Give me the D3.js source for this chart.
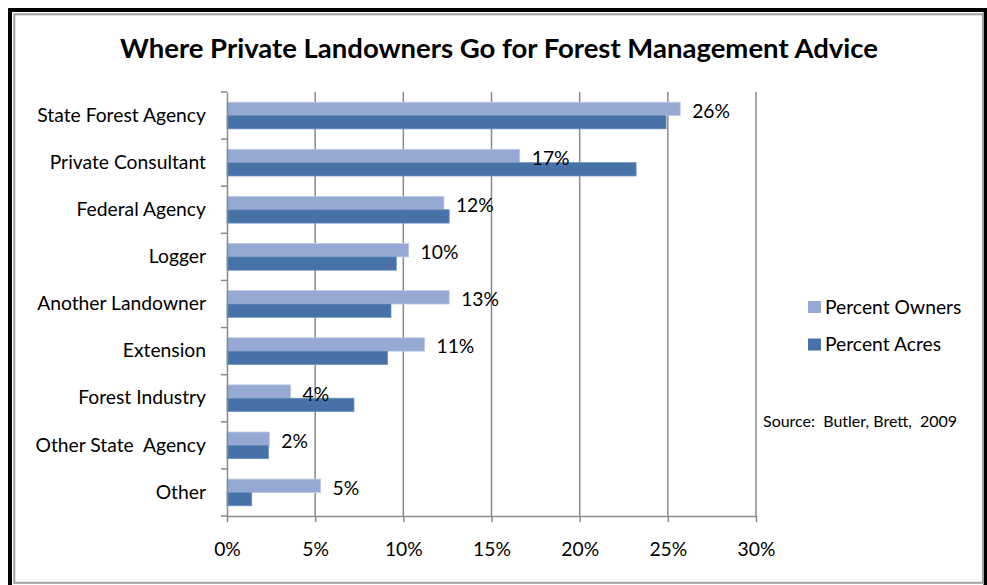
<!DOCTYPE html>
<html>
<head>
<meta charset="utf-8">
<script src="https://cdn.jsdelivr.net/npm/d3@7"></script>
<style>
  html, body { margin: 0; padding: 0; background: #fff; }
  svg { display: block; }
  text { font-family: Lato, "Noto Sans", sans-serif; fill: #000; }
</style>
</head>
<body>
<svg id="chart" width="987" height="585"></svg>
<script>
// Survey categories, top to bottom
const categories = [
  "State Forest Agency",
  "Private Consultant",
  "Federal Agency",
  "Logger",
  "Another Landowner",
  "Extension",
  "Forest Industry",
  "Other State  Agency",
  "Other"
];
// Share of owners (%) and share of acres (%) per advice source
const percentOwners = [25.7, 16.6, 12.3, 10.3, 12.6, 11.2, 3.6, 2.4, 5.3];
const percentAcres  = [24.9, 23.2, 12.6, 9.6, 9.3, 9.1, 7.2, 2.35, 1.4];
const seriesNames = ["Percent Owners", "Percent Acres"];
const xTicks = [0, 5, 10, 15, 20, 25, 30];
const titleText = "Where Private Landowners Go for Forest Management Advice";
const sourceText = "Source:  Butler, Brett,  2009";

const colors = { "Percent Owners": "#95A9D2", "Percent Acres": "#4672A8" };
const gridColor = "#8a8a8a";
const labelSize = "19.3px";

const svg = d3.select("#chart");

// outer frame
svg.append("rect").attr("x", 0).attr("y", 0).attr("width", 987).attr("height", 585).attr("fill", "#fff");
svg.append("rect")
  .attr("x", 10).attr("y", 10).attr("width", 975.5).attr("height", 620)
  .attr("fill", "none").attr("stroke", "#000").attr("stroke-width", 4);
svg.append("rect")
  .attr("x", 14.3).attr("y", 14.3).attr("width", 968.7).attr("height", 568.5)
  .attr("fill", "none").attr("stroke", "#a0a0a0").attr("stroke-width", 2);

// title
svg.append("text")
  .attr("x", 499).attr("y", 58)
  .attr("text-anchor", "middle")
  .style("font-weight", "bold")
  .style("font-size", "27.5px")
  .text(titleText);

const plot = { left: 227, right: 756, top: 92, bottom: 516 };

const x = d3.scaleLinear().domain([0, 30]).range([plot.left, plot.right]);
const y = d3.scaleBand().domain(categories).range([plot.top, plot.bottom]);
const ySub = d3.scaleBand().domain(seriesNames).range([0, y.bandwidth()]).paddingOuter(0.77);

// vertical gridlines
svg.append("g").selectAll("line")
  .data(xTicks.slice(1))
  .join("line")
  .attr("x1", d => x(d)).attr("x2", d => x(d))
  .attr("y1", plot.top).attr("y2", plot.bottom)
  .attr("stroke", gridColor).attr("stroke-width", 1.5);

// bars
const rows = categories.map((c, i) => ({ c, owners: percentOwners[i], acres: percentAcres[i] }));
const barG = svg.append("g");
rows.forEach(r => {
  [["Percent Owners", r.owners], ["Percent Acres", r.acres]].forEach(([s, v]) => {
    barG.append("rect")
      .attr("x", x(0))
      .attr("y", y(r.c) + ySub(s))
      .attr("width", x(v) - x(0))
      .attr("height", ySub.bandwidth())
      .attr("fill", colors[s])
      .attr("stroke", s === "Percent Owners" ? "#b9c7e3" : "#6a8fbd")
      .attr("stroke-width", 0.8);
  });
});

// value labels for the owners series
const fmt = v => d3.format(".0f")(v) + "%";
svg.append("g").selectAll("text")
  .data(rows)
  .join("text")
  .attr("x", d => x(d.owners) + 12)
  .attr("y", d => y(d.c) + ySub("Percent Owners") + ySub.bandwidth() / 2 + 2)
  .attr("dy", "0.36em")
  .style("font-size", labelSize)
  .text(d => fmt(d.owners));

// y axis
const yAxis = d3.axisLeft(y).tickSize(0).tickPadding(21);
const yg = svg.append("g").attr("transform", `translate(${plot.left},0)`).call(yAxis);
yg.select(".domain").attr("stroke", gridColor).attr("stroke-width", 1.5);
yg.selectAll("text").style("font-size", labelSize).style("white-space", "pre").attr("font-family", null);
// category boundary ticks
yg.append("g").selectAll("line")
  .data(d3.range(categories.length + 1))
  .join("line")
  .attr("x1", -6).attr("x2", 0)
  .attr("y1", i => plot.top + i * y.step()).attr("y2", i => plot.top + i * y.step())
  .attr("stroke", gridColor).attr("stroke-width", 1.5);

// x axis
const xAxis = d3.axisBottom(x).tickValues(xTicks).tickFormat(d => d + "%").tickSizeInner(6).tickSizeOuter(0).tickPadding(20);
const xg = svg.append("g").attr("transform", `translate(0,${plot.bottom})`).call(xAxis);
xg.select(".domain").attr("stroke", gridColor).attr("stroke-width", 1.5);
xg.selectAll(".tick line").attr("stroke", gridColor).attr("stroke-width", 1.5);
xg.selectAll("text").style("font-size", labelSize).attr("font-family", null);
svg.selectAll(".tick text").attr("fill", "#000");

// legend
const legend = svg.append("g").attr("transform", "translate(808,301)");
seriesNames.forEach((s, i) => {
  const g = legend.append("g").attr("transform", `translate(0,${i * 37.5})`);
  g.append("rect").attr("width", 13).attr("height", 12).attr("fill", colors[s]);
  g.append("text").attr("x", 17).attr("y", 6).attr("dy", "0.36em")
    .style("font-size", labelSize).text(s);
});

// source note
svg.append("text")
  .attr("x", 763).attr("y", 421).attr("dy", "0.36em")
  .style("font-size", "16px")
  .style("white-space", "pre")
  .text(sourceText);
</script>
</body>
</html>
